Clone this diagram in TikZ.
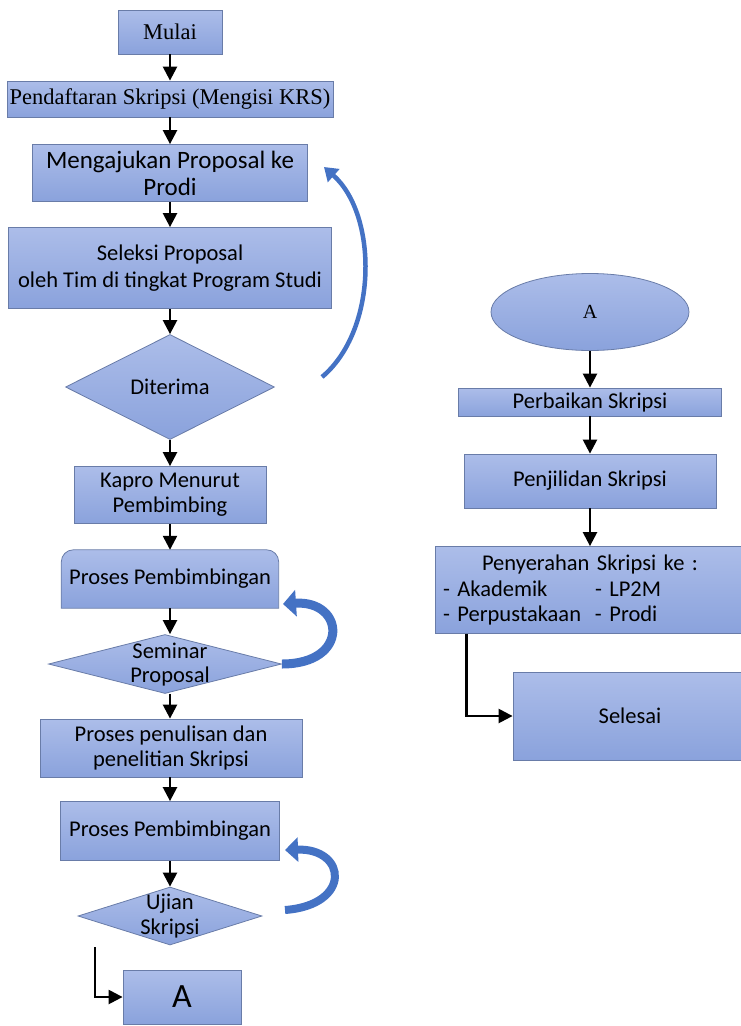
\documentclass[tikz,border=0pt]{standalone}
\usepackage{fontspec}
\setmainfont{Carlito}
\newfontfamily\timesfont{Liberation Serif}
\usetikzlibrary{shapes.geometric,arrows.meta,backgrounds}
\definecolor{boxtop}{RGB}{172,189,233}
\definecolor{boxbot}{RGB}{138,162,220}
\definecolor{boxline}{RGB}{105,124,168}
\definecolor{loopblue}{RGB}{68,114,196}

\begin{document}
\begin{tikzpicture}[x=1pt,y=-1pt,
      box/.style={draw=boxline,line width=0.8pt,top color=boxtop,bottom color=boxbot,
        inner sep=0pt,align=center,font=\fontsize{22.5}{27}\selectfont},
      diam/.style={box,diamond},
      txt/.style={align=center,inner sep=0pt,font=\fontsize{22.5}{24}\selectfont},
      serif/.style={font=\timesfont\fontsize{#1}{#1}\selectfont},
      flow/.style={-{Triangle[width=14pt,length=14pt]},line width=2.4pt},
      backarrow/.style={-{Triangle[width=#1,length=13pt]},draw=loopblue}]
      \useasboundingbox (0,0) rectangle (741,1026);

      \node[box,serif=22.5,minimum width=104pt,minimum height=44pt] (mulai) at (170,32) {Mulai};
      \node[box,serif=22.5,minimum width=326pt,minimum height=36pt] (daftar) at (170,99) {Pendaftaran Skripsi (Mengisi KRS)};
      \node[box,minimum width=275pt,minimum height=57pt,font=\fontsize{25}{27}\selectfont] (ajukan) at (170,173) {Mengajukan Proposal ke\\Prodi};
      \node[box,minimum width=323pt,minimum height=81pt] (seleksi) at (170,268) {Seleksi Proposal\\oleh Tim di tingkat Program Studi};
      \node[diam,minimum width=209pt,minimum height=105pt] (terima) at (170,387) {Diterima};
      \node[box,minimum width=192pt,minimum height=57pt,font=\fontsize{22.5}{25}\selectfont] (kapro) at (170,495) {Kapro Menurut\\Pembimbing};
      \node[txt,minimum width=217pt,minimum height=58pt] (bimb1) at (170,579) {Proses Pembimbingan};
      \node[diam,minimum width=233pt,minimum height=59pt] (seminar) at (165,664) {};
      \node[txt] (seminar-t) at (170,665) {Seminar\\Proposal};
      \node[box,minimum width=262pt,minimum height=58pt,font=\fontsize{22.5}{25}\selectfont] (tulis) at (171,748) {Proses penulisan dan\\penelitian Skripsi};
      \node[box,minimum width=219pt,minimum height=59pt] (bimb2) at (170,831) {Proses Pembimbingan};
      \node[diam,minimum width=184pt,minimum height=58pt] (ujian) at (170,916) {};
      \node[txt,font=\fontsize{22.5}{25}\selectfont] (ujian-t) at (170,916) {Ujian\\Skripsi};
      \node[box,minimum width=118pt,minimum height=54pt,font=\fontsize{34}{34}\selectfont] (konA) at (182,997) {A};

      \node[box,ellipse,serif=20,minimum width=198pt,minimum height=77pt] (elA) at (590,312) {A};
      \node[box,minimum width=263pt,minimum height=28pt] (perbaikan) at (590,402) {Perbaikan Skripsi};
      \node[box,minimum width=252pt,minimum height=54pt] (jilid) at (590,481) {Penjilidan Skripsi};
      \node[box,minimum width=310pt,minimum height=87pt,text width=294pt,align=left,
        font=\fontsize{22.5}{25.5}\selectfont] (serah) at (590,590)
        {\makebox[294pt]{Penyerahan Skripsi ke :}\\
         \makebox[152pt][l]{- Akademik}- LP2M\\
         \makebox[152pt][l]{- Perpustakaan}- Prodi};
      \node[box,minimum width=234pt,minimum height=88pt] (selesai) at (630,716) {Selesai};

      \begin{scope}[on background layer]
        \path[draw=boxline,line width=0.8pt,top color=boxtop,bottom color=boxbot]
          (bimb1.south west) [rounded corners=12pt] -- (bimb1.north west) -- (bimb1.north east)
          [sharp corners] -- (bimb1.south east) -- cycle;
      \end{scope}

      \draw[flow] (mulai) -- (daftar);
      \draw[flow] (daftar) -- (ajukan);
      \draw[flow] (ajukan) -- (seleksi);
      \draw[flow] (seleksi) -- (terima);
      \draw[flow] (terima) -- (kapro);
      \draw[flow] (kapro) -- (bimb1);
      \draw[flow] (bimb1.south) -- (bimb1.south |- seminar.north);
      \draw[flow] (seminar-t |- seminar.south) -- (seminar-t |- tulis.north);
      \draw[flow] (tulis.south -| bimb2.north) -- (bimb2.north);
      \draw[flow] (bimb2.south) -- (bimb2.south |- ujian.north);
      \coordinate (ujA) at (95,947);
      \draw[flow] (ujA) |- (konA.west);

      \draw[flow] (elA) -- (perbaikan);
      \draw[flow] (perbaikan) -- (jilid);
      \draw[flow] (jilid) -- (serah);
      \draw[flow] ([xshift=32pt]serah.south west) |- (selesai.west);

      \coordinate (back1a) at (322,377);
      \coordinate (back1b) at (324,167);
      \draw[backarrow=17pt,line width=4.5pt] (back1a) .. controls (378,330) and (378,215) .. (back1b);
      \coordinate (back2b) at (283,604);
      \draw[backarrow=26pt,line width=9pt] (seminar.east) .. controls (350,664) and (345,600) .. (back2b);
      \coordinate (back3a) at (285,910);
      \coordinate (back3b) at (285,850);
      \draw[backarrow=24pt,line width=8pt] (back3a) .. controls (352,905) and (347,848) .. (back3b);
\end{tikzpicture}
\end{document}
